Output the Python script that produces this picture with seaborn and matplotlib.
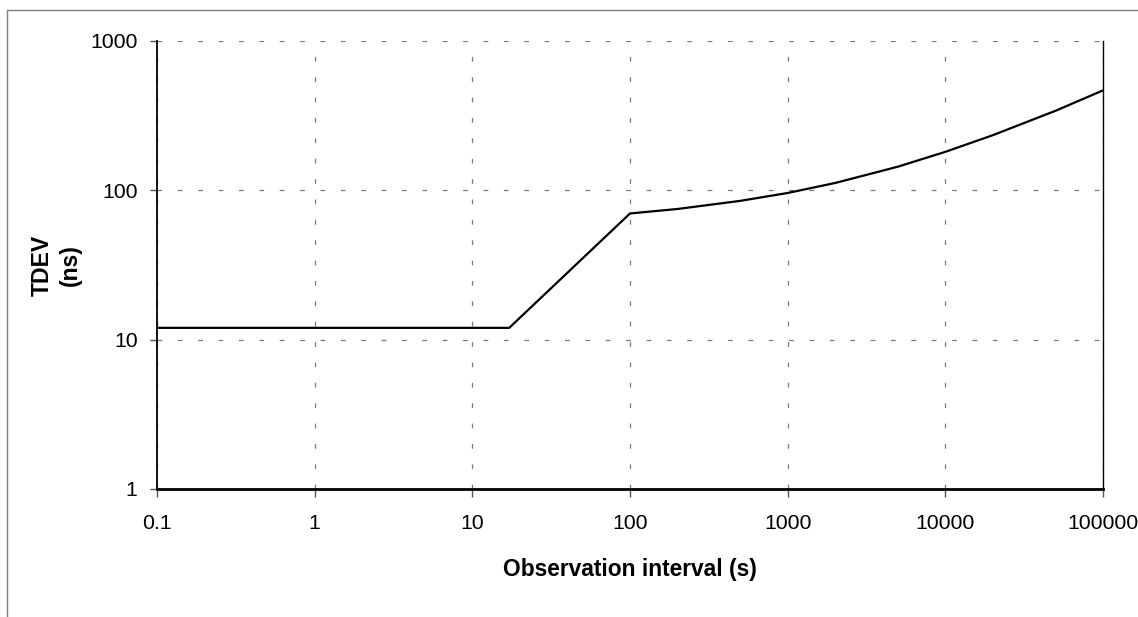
import matplotlib
matplotlib.use("Agg")
import matplotlib.pyplot as plt
from matplotlib.patches import Rectangle
from matplotlib.ticker import FixedLocator, FixedFormatter, NullLocator
import seaborn as sns
import pandas as pd

# TDEV limit (ns) versus observation interval (s)
tau_s = [0.1, 17.14, 50, 100, 200, 500, 1000, 2000, 5000, 10000, 20000, 50000, 100000]
tdev_ns = [12, 12, 35, 70, 75, 85, 96, 112, 144, 181, 234, 341, 467]

x_ticks = [0.1, 1, 10, 100, 1000, 10000, 100000]
x_tick_labels = ["0.1", "1", "10", "100", "1000", "10000", "100000"]
y_ticks = [1, 10, 100, 1000]
y_tick_labels = ["1", "10", "100", "1000"]

sns.set_style("white")
plt.rcParams["font.family"] = ["Liberation Sans", "DejaVu Sans"]
plt.rcParams["text.color"] = "black"
plt.rcParams["axes.labelcolor"] = "black"

fig = plt.figure(figsize=(11.38, 6.17), dpi=100)
ax = fig.add_axes([157 / 1138, 1 - 489 / 617, 946 / 1138, 448 / 617])

df = pd.DataFrame({"tau": tau_s, "tdev": tdev_ns})
sns.lineplot(data=df, x="tau", y="tdev", ax=ax, color="black", linewidth=1.6,
             estimator=None, sort=False)

ax.set_xscale("log")
ax.set_yscale("log")
ax.set_xlim(x_ticks[0], x_ticks[-1])
ax.set_ylim(y_ticks[0], y_ticks[-1])

ax.xaxis.set_major_locator(FixedLocator(x_ticks))
ax.xaxis.set_major_formatter(FixedFormatter(x_tick_labels))
ax.xaxis.set_minor_locator(NullLocator())
ax.yaxis.set_major_locator(FixedLocator(y_ticks))
ax.yaxis.set_major_formatter(FixedFormatter(y_tick_labels))
ax.yaxis.set_minor_locator(NullLocator())

ax.grid(True, which="major", color="#7a7a7a", linewidth=0.9, linestyle=(0, (3.8, 12.5)))

ax.tick_params(axis="both", which="major", labelsize=15.3, colors="#555555",
               labelcolor="black", direction="out", width=1)
ax.tick_params(axis="y", length=5, pad=9, left=True)
ax.tick_params(axis="x", length=6, pad=12, bottom=True)

ax.spines["top"].set_visible(False)
ax.spines["left"].set_color("black")
ax.spines["left"].set_linewidth(1.3)
ax.spines["bottom"].set_color("black")
ax.spines["bottom"].set_linewidth(2.0)
ax.spines["right"].set_color("black")
ax.spines["right"].set_linewidth(1.0)

ax.set_xlabel("Observation interval (s)", fontsize=16.4, fontweight="bold")
ax.xaxis.set_label_coords(0.5, -0.155)
ax.set_ylabel("TDEV\n(ns)", fontsize=16.6, fontweight="bold",
              multialignment="center", linespacing=1.3)
ax.yaxis.set_label_coords(-0.079, 0.5)

# chart frame
fig.add_artist(Rectangle((7 / 1138, -0.5), 2.0, 0.5 + 1 - 10 / 617,
                         transform=fig.transFigure, fill=False,
                         edgecolor="#7f7f7f", linewidth=1.0, clip_on=False))

fig.savefig("out.png", dpi=100)
